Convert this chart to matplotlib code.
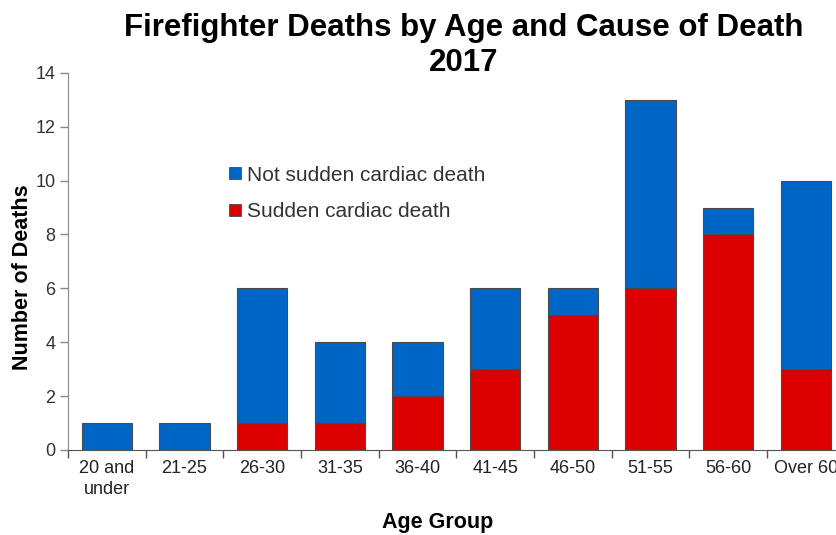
import matplotlib
matplotlib.use("Agg")
import matplotlib.pyplot as plt
from matplotlib.patches import Patch
import numpy as np

plt.rcParams["font.family"] = ["Liberation Sans", "DejaVu Sans"]

age_groups = ["20 and\nunder", "21-25", "26-30", "31-35", "36-40",
              "41-45", "46-50", "51-55", "56-60", "Over 60"]
sudden_cardiac = [0, 0, 1, 1, 2, 3, 5, 6, 8, 3]
not_sudden_cardiac = [1, 1, 5, 3, 2, 3, 1, 7, 1, 7]

BLUE = "#0066c6"
RED = "#dd0000"
EDGE = "#4a4a4a"

fig = plt.figure(figsize=(8.36, 5.35), dpi=100)
ax = fig.add_axes([0.0813, 0.159, 0.929, 0.7047])

x = np.arange(len(age_groups))
ax.bar(x, sudden_cardiac, width=0.65, color=RED, edgecolor=EDGE, linewidth=0.8)
ax.bar(x, not_sudden_cardiac, width=0.65, bottom=sudden_cardiac, color=BLUE,
       edgecolor=EDGE, linewidth=0.8)

ax.set_xlim(-0.5, len(age_groups) - 0.5)
ax.set_ylim(0, 14)
ax.set_yticks(range(0, 15, 2))

# boundary ticks on the category axis, labels centred under the bars
ax.set_xticks(np.arange(-0.5, len(age_groups), 1.0))
ax.set_xticklabels([])
ax.set_xticks(x, minor=True)
ax.set_xticklabels(age_groups, minor=True, fontsize=13, color="#222222",
                   linespacing=1.35)
ax.tick_params(axis="x", which="minor", length=0, pad=7)
ax.tick_params(axis="x", which="major", length=6, width=1, color="#555555")
ax.tick_params(axis="y", length=6, width=1, color="#888888", labelsize=13,
               labelcolor="#333333", pad=3)

for side in ("top", "right"):
    ax.spines[side].set_visible(False)
ax.spines["left"].set_color("#888888")
ax.spines["bottom"].set_color("#555555")

fig.text(0.555, 0.947, "Firefighter Deaths by Age and Cause of Death",
         ha="center", va="center", fontsize=22.5, fontweight="bold")
fig.text(0.555, 0.882, "2017", ha="center", va="center", fontsize=22.5,
         fontweight="bold")
fig.text(0.524, 0.024, "Age Group", ha="center", va="center", fontsize=15.5,
         fontweight="bold")
fig.text(0.027, 0.482, "Number of Deaths", ha="center", va="center",
         rotation=90, fontsize=15.5, fontweight="bold")

handles = [Patch(facecolor=BLUE, edgecolor=EDGE, linewidth=0.6),
           Patch(facecolor=RED, edgecolor=EDGE, linewidth=0.6)]
fig.legend(handles, ["Not sudden cardiac death", "Sudden cardiac death"],
           loc="upper left", bbox_to_anchor=(0.262, 0.71), frameon=False,
           fontsize=15, handlelength=0.55, handleheight=0.55,
           handletextpad=0.3, labelspacing=0.85, borderpad=0,
           labelcolor="#333333")

fig.savefig("out.png", dpi=100)
